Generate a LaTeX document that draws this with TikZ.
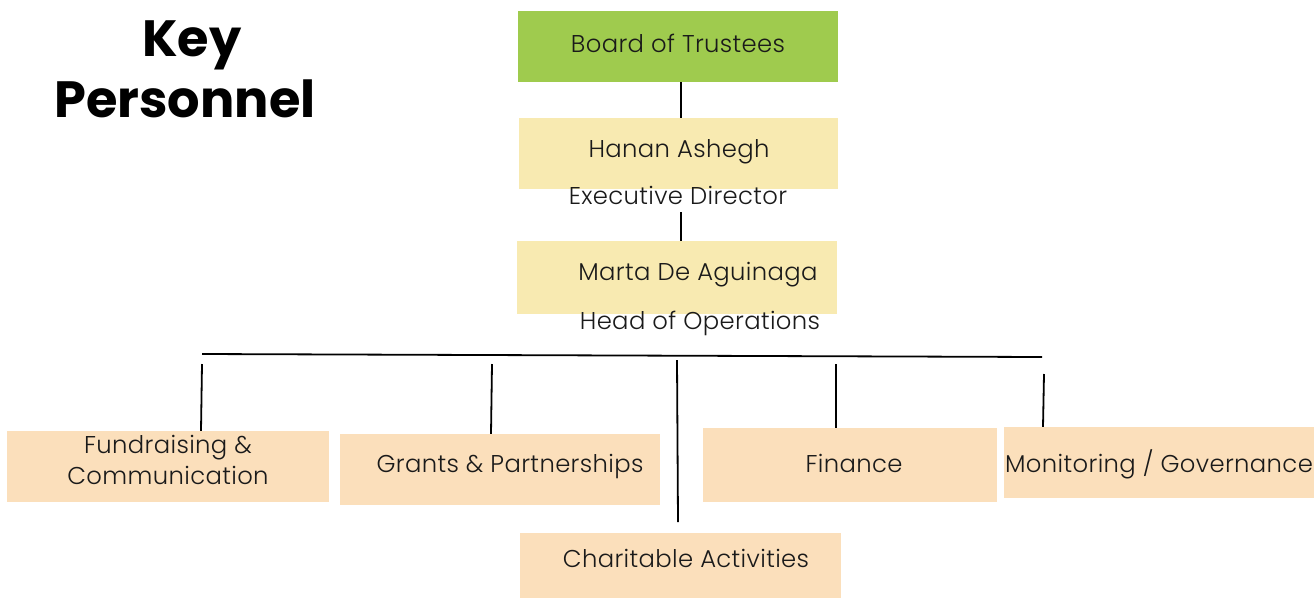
\documentclass[tikz,border=0pt]{standalone}
\usepackage{fontspec}
\IfFontExistsTF{Poppins Light}
  {\setmainfont{Poppins}[UprightFont=* Light, BoldFont=* Bold]}
  {\setmainfont{Poppins}}
\definecolor{boardgreen}{HTML}{9FCB4E}
\definecolor{paleyellow}{HTML}{F8EAB1}
\definecolor{peach}{HTML}{FBDFBB}
\definecolor{ink}{HTML}{1A1A1A}
\begin{document}
\begin{tikzpicture}[x=1pt,y=-1pt,
  box/.style={inner sep=0pt,draw=none},
  lbl/.style={inner sep=0pt,anchor=base,text=ink,font=\fontsize{24.3}{31.5}\selectfont\addfontfeature{LetterSpace=1.5},align=center},
  ttl/.style={inner sep=0pt,anchor=base,text=black,font=\bfseries\fontsize{51}{58}\selectfont},
  conn/.style={draw=black,line width=1.8pt}]
\useasboundingbox (0,0) rectangle (1314,598);
% title
\node[ttl] (key) at (192,56) {Key};
\node[ttl] (pers) at (185,117) {Personnel};
% top chain
\node[box,fill=boardgreen,minimum width=320,minimum height=71] (board) at (678,46.5) {};
\node[lbl] (boardt) at (678,52) {Board of Trustees};
\node[box,fill=paleyellow,minimum width=319,minimum height=71] (hanan) at (678.5,153.5) {};
\node[lbl] (hanant) at (679,157.5) {Hanan Ashegh};
\node[lbl] (hananr) at (678,204.5) {Executive Director};
\node[box,fill=paleyellow,minimum width=320,minimum height=73] (marta) at (677,277.5) {};
\node[lbl] (martat) at (698,280) {Marta De Aguinaga};
\node[lbl] (martar) at (700,329) {Head of Operations};
% bottom row
\node[box,fill=peach,minimum width=322,minimum height=71] (fund) at (168,466.5) {};
\node[lbl,anchor=north] (fundt) at (168,435) {Fundraising \&\\Communication};
\node[box,fill=peach,minimum width=320,minimum height=71] (grants) at (500,469.5) {};
\node[lbl] (grantst) at (510,472) {Grants \& Partnerships};
\node[box,fill=peach,minimum width=321,minimum height=65] (charity) at (680.5,565.5) {};
\node[lbl] (charityt) at (686,567) {Charitable Activities};
\node[box,fill=peach,minimum width=294,minimum height=74] (finance) at (850,465) {};
\node[lbl] (financet) at (854,472) {Finance};
\node[box,fill=peach,minimum width=310,minimum height=71] (monitor) at (1159,462.5) {};
\node[lbl] (monitort) at (1159,472) {Monitoring / Governance};
% connector ends
\coordinate (c1) at (681,212);
\coordinate (busL) at (202,354);
\coordinate (busR) at (1042,357);
\coordinate (f1) at (202,364);
\coordinate (g1) at (492,364);
\coordinate (ch1) at (677,360);
\coordinate (ch2) at (678,522);
\coordinate (fi1) at (836,364);
\coordinate (m1) at (1044,374);
% connectors
\draw[conn] (board.south -| c1) -- (hanan.north -| c1);
\draw[conn] (c1) -- (marta.north -| c1);
\draw[conn] (busL) -- (busR);
\draw[conn] (f1) -- (fund.north -| 201,0);
\draw[conn] (g1) -- (grants.north -| 491,0);
\draw[conn] (ch1) -- (ch2);
\draw[conn] (fi1) -- (finance.north -| 836,0);
\draw[conn] (m1) -- (monitor.north -| 1043,0);
\end{tikzpicture}
\end{document}
